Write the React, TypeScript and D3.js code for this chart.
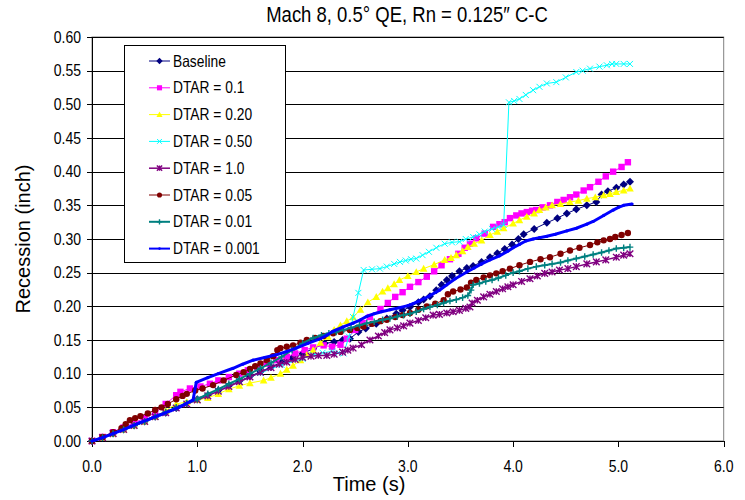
import React from 'react';
import * as d3 from 'd3';

const xTicks = [0, 1, 2, 3, 4, 5, 6];
const xTickLabels = ['0.0', '1.0', '2.0', '3.0', '4.0', '5.0', '6.0'];
const yTicks = [0, 0.05, 0.1, 0.15, 0.2, 0.25, 0.3, 0.35, 0.4, 0.45, 0.5, 0.55, 0.6];
const yTickLabels = ['0.00', '0.05', '0.10', '0.15', '0.20', '0.25', '0.30', '0.35', '0.40', '0.45', '0.50', '0.55', '0.60'];

const seriesNames = ['Baseline', 'DTAR = 0.1', 'DTAR = 0.20', 'DTAR = 0.50', 'DTAR = 1.0', 'DTAR = 0.05', 'DTAR = 0.01', 'DTAR = 0.001'];

const baseline: [number, number][] = [[0,0],[0.1,0.005],[0.2,0.011],[0.3,0.017],[0.4,0.023],[0.5,0.029],[0.6,0.036],[0.7,0.042],[0.8,0.049],[0.9,0.056],[1.0,0.062],[1.1,0.068],[1.2,0.075],[1.3,0.082],[1.4,0.089],[1.5,0.096],[1.6,0.103],[1.7,0.11],[1.8,0.117],[1.9,0.123],[2.0,0.13],[2.1,0.137],[2.21,0.145],[2.3,0.147],[2.38,0.15],[2.45,0.152],[2.53,0.162],[2.6,0.167],[2.7,0.174],[2.8,0.182],[2.89,0.189],[2.95,0.194],[3.02,0.199],[3.1,0.206],[3.15,0.21],[3.21,0.215],[3.27,0.224],[3.32,0.232],[3.37,0.239],[3.42,0.245],[3.49,0.252],[3.56,0.257],[3.62,0.26],[3.7,0.266],[3.78,0.273],[3.85,0.279],[3.92,0.285],[3.99,0.292],[4.05,0.3],[4.1,0.307],[4.2,0.315],[4.32,0.324],[4.42,0.331],[4.51,0.338],[4.6,0.344],[4.7,0.35],[4.79,0.355],[4.84,0.366],[4.9,0.371],[4.98,0.376],[5.05,0.381],[5.11,0.385]];

const dtar01: [number, number][] = [[0,0],[0.1,0.006],[0.2,0.013],[0.3,0.02],[0.4,0.027],[0.5,0.034],[0.6,0.042],[0.7,0.055],[0.8,0.068],[0.84,0.073],[0.93,0.078],[1.03,0.081],[1.12,0.085],[1.2,0.09],[1.3,0.095],[1.4,0.1],[1.48,0.105],[1.57,0.11],[1.66,0.115],[1.75,0.12],[1.85,0.125],[1.93,0.13],[2.02,0.135],[2.1,0.139],[2.2,0.142],[2.28,0.14],[2.36,0.143],[2.42,0.152],[2.5,0.165],[2.57,0.175],[2.64,0.184],[2.74,0.196],[2.81,0.205],[2.88,0.214],[2.95,0.221],[3.02,0.229],[3.1,0.236],[3.18,0.244],[3.25,0.252],[3.32,0.261],[3.4,0.27],[3.48,0.278],[3.54,0.287],[3.59,0.293],[3.65,0.301],[3.73,0.308],[3.81,0.318],[3.87,0.322],[3.92,0.325],[3.97,0.331],[4.03,0.335],[4.08,0.338],[4.13,0.34],[4.18,0.342],[4.22,0.343],[4.28,0.347],[4.35,0.35],[4.42,0.355],[4.48,0.358],[4.54,0.362],[4.6,0.366],[4.67,0.372],[4.73,0.377],[4.81,0.385],[4.88,0.393],[4.95,0.4],[5.03,0.407],[5.09,0.414]];

const dtar020: [number, number][] = [[0,0],[0.1,0.005],[0.2,0.011],[0.3,0.017],[0.4,0.023],[0.5,0.029],[0.6,0.036],[0.7,0.045],[0.8,0.055],[0.9,0.058],[1.0,0.061],[1.1,0.064],[1.2,0.07],[1.3,0.077],[1.4,0.082],[1.5,0.086],[1.63,0.09],[1.7,0.094],[1.79,0.1],[1.85,0.106],[1.91,0.112],[1.98,0.12],[2.04,0.128],[2.1,0.135],[2.17,0.146],[2.24,0.155],[2.3,0.165],[2.36,0.172],[2.42,0.178],[2.48,0.184],[2.55,0.195],[2.62,0.206],[2.7,0.214],[2.76,0.222],[2.81,0.227],[2.87,0.233],[2.92,0.239],[3.0,0.245],[3.08,0.251],[3.15,0.256],[3.25,0.262],[3.35,0.269],[3.41,0.272],[3.46,0.276],[3.52,0.282],[3.57,0.288],[3.63,0.293],[3.7,0.298],[3.78,0.306],[3.85,0.311],[3.91,0.316],[4.0,0.323],[4.06,0.328],[4.13,0.333],[4.2,0.338],[4.25,0.343],[4.31,0.347],[4.37,0.35],[4.45,0.352],[4.54,0.355],[4.62,0.357],[4.7,0.36],[4.78,0.362],[4.86,0.365],[4.92,0.367],[4.98,0.37],[5.05,0.372],[5.11,0.375]];

const dtar050: [number, number][] = [[0,0],[0.2,0.011],[0.4,0.023],[0.6,0.036],[0.8,0.049],[1.0,0.062],[1.2,0.075],[1.4,0.088],[1.6,0.101],[1.8,0.113],[2.0,0.122],[2.1,0.128],[2.19,0.131],[2.28,0.133],[2.34,0.131],[2.39,0.13],[2.44,0.155],[2.48,0.184],[2.53,0.22],[2.58,0.254],[2.66,0.255],[2.735,0.256],[2.8,0.259],[2.87,0.263],[2.925,0.266],[2.98,0.268],[3.03,0.27],[3.08,0.271],[3.14,0.276],[3.2,0.281],[3.27,0.287],[3.35,0.293],[3.42,0.295],[3.49,0.296],[3.55,0.3],[3.62,0.303],[3.68,0.307],[3.73,0.311],[3.8,0.315],[3.86,0.318],[3.91,0.321],[3.96,0.503],[4.01,0.505],[4.06,0.508],[4.12,0.514],[4.19,0.521],[4.25,0.526],[4.32,0.531],[4.41,0.533],[4.5,0.54],[4.6,0.548],[4.66,0.55],[4.73,0.553],[4.82,0.556],[4.89,0.558],[4.94,0.56],[4.98,0.56],[5.05,0.56],[5.11,0.56]];

const dtar10: [number, number][] = [[0,0],[0.1,0.005],[0.2,0.011],[0.3,0.017],[0.4,0.023],[0.5,0.029],[0.6,0.036],[0.7,0.042],[0.8,0.049],[0.9,0.055],[1.0,0.061],[1.1,0.067],[1.2,0.074],[1.3,0.081],[1.4,0.088],[1.5,0.095],[1.6,0.102],[1.7,0.109],[1.78,0.114],[1.85,0.117],[1.93,0.121],[2.0,0.124],[2.08,0.126],[2.15,0.127],[2.23,0.127],[2.3,0.129],[2.38,0.132],[2.43,0.135],[2.48,0.138],[2.56,0.143],[2.64,0.15],[2.72,0.156],[2.78,0.161],[2.83,0.165],[2.9,0.168],[2.96,0.171],[3.02,0.175],[3.1,0.179],[3.17,0.183],[3.24,0.187],[3.3,0.188],[3.37,0.19],[3.43,0.192],[3.49,0.194],[3.55,0.197],[3.59,0.199],[3.61,0.205],[3.66,0.209],[3.72,0.214],[3.78,0.218],[3.84,0.222],[3.9,0.226],[3.95,0.229],[4.0,0.232],[4.08,0.237],[4.16,0.241],[4.23,0.245],[4.3,0.249],[4.37,0.251],[4.44,0.254],[4.52,0.256],[4.6,0.259],[4.7,0.263],[4.79,0.266],[4.88,0.269],[4.98,0.273],[5.05,0.276],[5.11,0.278]];

const dtar005: [number, number][] = [[0,0],[0.1,0.006],[0.2,0.013],[0.28,0.019],[0.32,0.025],[0.36,0.031],[0.41,0.034],[0.46,0.037],[0.53,0.041],[0.6,0.046],[0.66,0.05],[0.72,0.055],[0.8,0.062],[0.86,0.067],[0.9,0.07],[0.98,0.075],[1.05,0.078],[1.15,0.083],[1.25,0.09],[1.37,0.098],[1.44,0.102],[1.5,0.107],[1.55,0.111],[1.6,0.115],[1.66,0.12],[1.72,0.126],[1.76,0.135],[1.79,0.138],[1.85,0.14],[1.91,0.142],[1.98,0.146],[2.04,0.15],[2.12,0.153],[2.2,0.156],[2.29,0.16],[2.36,0.162],[2.45,0.165],[2.52,0.168],[2.58,0.17],[2.66,0.174],[2.74,0.178],[2.8,0.18],[2.88,0.184],[2.95,0.187],[3.02,0.19],[3.1,0.195],[3.18,0.2],[3.26,0.204],[3.34,0.209],[3.38,0.218],[3.43,0.222],[3.5,0.225],[3.56,0.228],[3.6,0.235],[3.65,0.239],[3.72,0.243],[3.78,0.246],[3.84,0.249],[3.9,0.252],[3.97,0.256],[4.06,0.261],[4.16,0.266],[4.26,0.27],[4.35,0.273],[4.45,0.278],[4.54,0.283],[4.63,0.287],[4.73,0.291],[4.8,0.295],[4.86,0.298],[4.92,0.3],[4.97,0.303],[5.03,0.306],[5.09,0.309]];

const dtar001: [number, number][] = [[0,0],[0.1,0.005],[0.2,0.011],[0.3,0.017],[0.4,0.023],[0.5,0.029],[0.6,0.036],[0.7,0.043],[0.8,0.05],[0.9,0.056],[1.0,0.062],[1.1,0.07],[1.2,0.077],[1.3,0.085],[1.4,0.092],[1.5,0.1],[1.6,0.108],[1.7,0.116],[1.8,0.125],[1.9,0.135],[2.0,0.145],[2.1,0.153],[2.18,0.157],[2.25,0.16],[2.32,0.162],[2.39,0.165],[2.46,0.168],[2.54,0.172],[2.61,0.175],[2.68,0.177],[2.76,0.18],[2.83,0.182],[2.9,0.185],[2.96,0.187],[3.02,0.189],[3.08,0.192],[3.15,0.196],[3.21,0.199],[3.28,0.202],[3.34,0.205],[3.4,0.208],[3.46,0.21],[3.52,0.213],[3.57,0.216],[3.6,0.224],[3.62,0.232],[3.68,0.234],[3.74,0.237],[3.8,0.239],[3.86,0.242],[3.93,0.246],[4.0,0.25],[4.06,0.252],[4.14,0.256],[4.22,0.259],[4.3,0.261],[4.37,0.263],[4.45,0.265],[4.52,0.268],[4.6,0.271],[4.68,0.274],[4.76,0.277],[4.84,0.28],[4.91,0.283],[4.98,0.286],[5.05,0.287],[5.11,0.288]];

const dtar0001: [number, number][] = [[0,0],[0.1,0.005],[0.2,0.011],[0.3,0.017],[0.36,0.021],[0.45,0.027],[0.55,0.033],[0.65,0.039],[0.75,0.045],[0.84,0.051],[0.9,0.056],[0.96,0.061],[0.99,0.087],[1.1,0.094],[1.2,0.1],[1.34,0.108],[1.43,0.114],[1.53,0.12],[1.64,0.124],[1.75,0.128],[1.85,0.133],[1.94,0.138],[2.05,0.145],[2.17,0.152],[2.23,0.157],[2.29,0.163],[2.38,0.169],[2.48,0.175],[2.55,0.18],[2.61,0.185],[2.68,0.189],[2.75,0.192],[2.83,0.195],[2.92,0.198],[3.0,0.201],[3.05,0.204],[3.11,0.208],[3.2,0.215],[3.3,0.224],[3.37,0.232],[3.45,0.241],[3.56,0.251],[3.63,0.257],[3.7,0.263],[3.78,0.269],[3.87,0.275],[3.95,0.282],[4.0,0.287],[4.06,0.292],[4.12,0.297],[4.19,0.3],[4.25,0.302],[4.32,0.304],[4.4,0.307],[4.51,0.312],[4.6,0.316],[4.7,0.322],[4.76,0.326],[4.86,0.335],[4.95,0.343],[5.0,0.347],[5.05,0.35],[5.13,0.352]];

const seriesData = [baseline, dtar01, dtar020, dtar050, dtar10, dtar005, dtar001, dtar0001];

type MarkerKind = 'diamond' | 'square' | 'triangle' | 'x' | 'star' | 'circle' | 'plus' | 'dash';
const styles: { color: string; marker: MarkerKind; width: number; size: number }[] = [
  { color: '#000080', marker: 'diamond', width: 1, size: 4 },
  { color: '#FF00FF', marker: 'square', width: 1, size: 3.2 },
  { color: '#FFFF00', marker: 'triangle', width: 1, size: 3.8 },
  { color: '#00FFFF', marker: 'x', width: 1, size: 3 },
  { color: '#800080', marker: 'star', width: 1.5, size: 3.3 },
  { color: '#800000', marker: 'circle', width: 1, size: 3.2 },
  { color: '#008080', marker: 'plus', width: 2, size: 3.3 },
  { color: '#0000FF', marker: 'dash', width: 3, size: 1.6 },
];

function Marker({ kind, x, y, s, color }: { kind: MarkerKind; x: number; y: number; s: number; color: string }) {
  switch (kind) {
    case 'diamond':
      return <path d={`M${x},${y - s}L${x + s},${y}L${x},${y + s}L${x - s},${y}Z`} fill={color} />;
    case 'square':
      return <rect x={x - s} y={y - s} width={2 * s} height={2 * s} fill={color} />;
    case 'triangle':
      return <path d={`M${x},${y - s}L${x + s},${y + s * 0.8}L${x - s},${y + s * 0.8}Z`} fill={color} />;
    case 'x':
      return <path d={`M${x - s},${y - s}L${x + s},${y + s}M${x - s},${y + s}L${x + s},${y - s}`} stroke={color} strokeWidth={1} />;
    case 'star':
      return <path d={`M${x - s},${y - s}L${x + s},${y + s}M${x - s},${y + s}L${x + s},${y - s}M${x},${y - s}L${x},${y + s}`} stroke={color} strokeWidth={1.4} />;
    case 'circle':
      return <circle cx={x} cy={y} r={s} fill={color} />;
    case 'plus':
      return <path d={`M${x - s},${y}L${x + s},${y}M${x},${y - s}L${x},${y + s}`} stroke={color} strokeWidth={1.4} />;
    case 'dash':
      return <circle cx={x} cy={y} r={s} fill={color} />;
  }
}

const W = 745;
const H = 500;
const FONT = '"Liberation Sans", Arial, sans-serif';
const STRETCH = 1.15;

export default function App() {
  const x = d3.scaleLinear().domain([0, 6]).range([92, 723.7]);
  const y = d3.scaleLinear().domain([0, 0.6]).range([441, 37]);
  const line = d3.line<[number, number]>().x(d => x(d[0])).y(d => y(d[1]));

  const legendX = 124, legendY = 45, legendW = 161, legendH = 217;
  const rowY0 = 61, rowStep = 26.8;

  return (
    <svg width={W} height={H} style={{ position: 'absolute', left: 0, top: 0, background: '#fff' }} fontFamily={FONT}>
      <rect x={0} y={0} width={W} height={H} fill="#fff" />
      <rect x={x(0)} y={y(0.6)} width={x(6) - x(0)} height={y(0) - y(0.6)} fill="#fff" stroke="#808080" strokeWidth={1} />
      {yTicks.map((t, i) => (
        <line key={'g' + i} x1={x(0)} x2={x(6)} y1={Math.round(y(t)) + 0.5} y2={Math.round(y(t)) + 0.5} stroke="#000" strokeWidth={1} />
      ))}
      <line x1={Math.round(x(0)) + 0.5} x2={Math.round(x(0)) + 0.5} y1={y(0.6)} y2={y(0) + 0.5} stroke="#000" />
      <line x1={x(0)} x2={x(6)} y1={Math.round(y(0)) + 0.5} y2={Math.round(y(0)) + 0.5} stroke="#000" />
      {yTicks.map((t, i) => (
        <line key={'yt' + i} x1={x(0) - 5} x2={x(0)} y1={Math.round(y(t)) + 0.5} y2={Math.round(y(t)) + 0.5} stroke="#000" />
      ))}
      {xTicks.map((t, i) => (
        <line key={'xt' + i} x1={Math.round(x(t)) + 0.5} x2={Math.round(x(t)) + 0.5} y1={y(0)} y2={y(0) + 6} stroke="#000" />
      ))}
      {yTicks.map((t, i) => (
        <text key={'yl' + i} transform={`translate(81,${y(t) + 5.6}) scale(1,${STRETCH})`} textAnchor="end" fontSize={14} fill="#000">
          {yTickLabels[i]}
        </text>
      ))}
      {xTicks.map((t, i) => (
        <text key={'xl' + i} transform={`translate(${x(t)},${472}) scale(1,${STRETCH})`} textAnchor="middle" fontSize={14} fill="#000">
          {xTickLabels[i]}
        </text>
      ))}
      {seriesData.map((data, si) => {
        const st = styles[si];
        return (
          <g key={'s' + si}>
            <path d={line(data) || ''} fill="none" stroke={st.color} strokeWidth={st.width} strokeLinejoin="round" />
            {data.map((d, j) => (
              <Marker key={j} kind={st.marker} x={x(d[0])} y={y(d[1])} s={st.size} color={st.color} />
            ))}
          </g>
        );
      })}
      <rect x={legendX + 0.5} y={legendY + 0.5} width={legendW} height={legendH} fill="#fff" stroke="#000" strokeWidth={1} />
      {seriesNames.map((name, i) => {
        const st = styles[i];
        const ry = rowY0 + i * rowStep;
        return (
          <g key={'lg' + i}>
            <line x1={149} x2={170} y1={ry} y2={ry} stroke={st.color} strokeWidth={st.width >= 2 ? 2 : st.width} />
            <Marker kind={st.marker} x={159.5} y={ry} s={st.size * 0.8} color={st.color} />
            <text transform={`translate(173,${ry + 5.5}) scale(1,${STRETCH})`} fontSize={13.8} fill="#000">
              {name}
            </text>
          </g>
        );
      })}
      <text transform={`translate(407,22) scale(1,${STRETCH})`} textAnchor="middle" fontSize={18.5} fill="#000">
        Mach 8, 0.5° QE, Rn = 0.125″ C-C
      </text>
      <text transform="translate(369,491)" textAnchor="middle" fontSize={20} fill="#000">
        Time (s)
      </text>
      <text transform="translate(30,239) rotate(-90)" textAnchor="middle" fontSize={20} fill="#000">
        Recession (inch)
      </text>
    </svg>
  );
}
